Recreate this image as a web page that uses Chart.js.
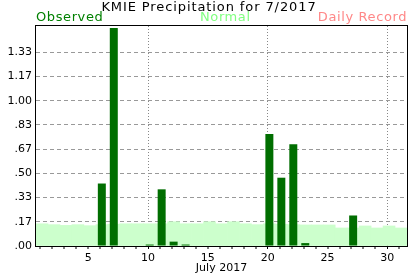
<!DOCTYPE html>
<html>
<head>
    <script src="https://cdn.jsdelivr.net/npm/chart.js@4.4.1/dist/chart.umd.min.js"></script>
    <style>
        body {
            margin: 0;
            background-color: white;
        }

        canvas#precipChart {
            display: block;
        }
    </style>
</head>
<body>
    <canvas id="precipChart" width="417" height="276"></canvas>

    <script>
        // Days of the month
        var days = [1, 2, 3, 4, 5, 6, 7, 8, 9, 10, 11, 12, 13, 14, 15, 16,
                    17, 18, 19, 20, 21, 22, 23, 24, 25, 26, 27, 28, 29, 30, 31];

        // Observed precipitation (inches), one per day
        var observed = [0, 0, 0, 0, 0, 0.43, 1.50, 0, 0, 0.01, 0.39, 0.03, 0.01, 0, 0, 0,
                        0, 0, 0, 0.77, 0.47, 0.70, 0.02, 0, 0, 0, 0.21, 0, 0, 0, 0];

        // Normal daily precipitation (inches)
        var normal = [0.153, 0.147, 0.142, 0.147, 0.140, 0.147, 0.150, 0.153, 0.153, 0.153, 0.153,
                      0.167, 0.153, 0.153, 0.167, 0.153, 0.167, 0.153, 0.147, 0.153, 0.150, 0.147,
                      0.145, 0.145, 0.145, 0.124, 0.124, 0.138, 0.124, 0.138, 0.124];

        // Axis labels
        var xLabelDays = [5, 10, 15, 20, 25, 30];
        var xGridDays = [10, 20, 30];
        var yTickValues = [0, 0.1667, 0.3333, 0.5, 0.6667, 0.8333, 1.0, 1.1667, 1.3333];
        var yTickLabels = ['.00', '.17', '.33', '.50', '.67', '.83', '1.00', '1.17', '1.33'];
        var yMax = 1.514;

        var titleText = 'KMIE Precipitation for 7/2017';
        var xAxisTitle = 'July 2017';
        var legendNames = ['Observed', 'Normal', 'Daily Record'];

        Chart.defaults.font.family = 'DejaVu Sans';
        Chart.defaults.color = 'black';

        // Draws the title line, the coloured legend words and the box round the plot
        var headerPlugin = {
            id: 'header',
            afterDraw: function(chart) {
                var ctx = chart.ctx;
                var area = chart.chartArea;
                ctx.save();

                ctx.strokeStyle = 'black';
                ctx.lineWidth = 1;
                ctx.strokeRect(area.left - 0.5, area.top - 0.5, area.right - area.left + 1, area.bottom - area.top + 1);

                ctx.textBaseline = 'alphabetic';
                ctx.font = '13px "DejaVu Sans"';
                ctx.letterSpacing = '0.9px';
                ctx.fillStyle = 'black';
                ctx.textAlign = 'center';
                ctx.fillText(titleText, 209, 11);

                ctx.letterSpacing = '0.6px';
                ctx.fillStyle = '#008000';
                ctx.textAlign = 'left';
                ctx.fillText(legendNames[0], 36, 21);

                ctx.fillStyle = '#80ff80';
                ctx.fillText(legendNames[1], 200, 21);

                ctx.fillStyle = '#ff8888';
                ctx.textAlign = 'right';
                ctx.fillText(legendNames[2], 407, 21);

                ctx.restore();
            }
        };

        function toPoints(values) {
            return days.map(function(d, i) {
                return {x: d, y: values[i]};
            });
        }

        var ctx = document.getElementById('precipChart').getContext('2d');

        var chart = new Chart(ctx, {
            type: 'bar',
            data: {
                datasets: [{
                    label: legendNames[0],
                    data: toPoints(observed),
                    xAxisID: 'x',
                    backgroundColor: '#006e00',
                    barPercentage: 0.667,
                    categoryPercentage: 1,
                    grouped: false,
                    order: 0
                }, {
                    label: legendNames[1],
                    data: toPoints(normal),
                    xAxisID: 'x',
                    backgroundColor: '#ccffcc',
                    barPercentage: 1,
                    categoryPercentage: 1,
                    grouped: false,
                    order: 1
                }]
            },
            options: {
                responsive: false,
                animation: false,
                layout: {
                    padding: {top: 26, right: 10, left: 0, bottom: 0}
                },
                plugins: {
                    legend: {display: false},
                    tooltip: {enabled: false}
                },
                scales: {
                    // day cells for the bars
                    x: {
                        type: 'linear',
                        display: false,
                        min: 0.5,
                        max: 31.5,
                        offset: false
                    },
                    // visible day axis, its ticks sit a little left of the cell centres
                    xDays: {
                        type: 'linear',
                        position: 'bottom',
                        min: 0.64,
                        max: 31.64,
                        offset: false,
                        z: 1,
                        afterBuildTicks: function(scale) {
                            scale.ticks = days.map(function(d) { return {value: d}; });
                        },
                        afterFit: function(scale) {
                            scale.height = 30;
                        },
                        grid: {
                            offset: false,
                            color: '#888',
                            lineWidth: function(c) {
                                return c.tick && xGridDays.indexOf(c.tick.value) >= 0 ? 1 : 0;
                            },
                            tickColor: 'black',
                            tickWidth: 1,
                            tickLength: 3
                        },
                        border: {display: false, dash: [1, 2]},
                        ticks: {
                            autoSkip: false,
                            maxRotation: 0,
                            padding: 3,
                            font: {size: 11},
                            callback: function(value) {
                                return xLabelDays.indexOf(value) >= 0 ? String(value) : '';
                            }
                        },
                        title: {
                            display: true,
                            text: xAxisTitle,
                            font: {size: 11},
                            padding: {top: 0, bottom: 1}
                        }
                    },
                    y: {
                        min: 0,
                        max: yMax,
                        z: 1,
                        afterBuildTicks: function(scale) {
                            scale.ticks = yTickValues.map(function(v) { return {value: v}; });
                        },
                        afterFit: function(scale) {
                            scale.width = 36;
                        },
                        grid: {
                            color: '#999',
                            lineWidth: 1,
                            drawTicks: false
                        },
                        border: {display: false, dash: [4, 3]},
                        ticks: {
                            autoSkip: false,
                            padding: 4,
                            font: {size: 11},
                            callback: function(value, index) {
                                return yTickLabels[index];
                            }
                        }
                    }
                }
            },
            plugins: [headerPlugin]
        });
    </script>
</body>
</html>
